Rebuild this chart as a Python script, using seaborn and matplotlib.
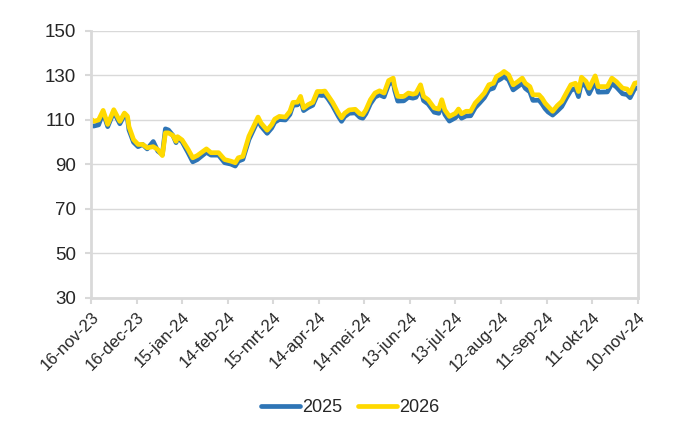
import pandas as pd
import matplotlib.pyplot as plt
import seaborn as sns

# dagen vanaf 16-nov-23
day = [0, 2, 5, 8, 11, 15, 19, 22, 24, 25, 28, 31, 34, 37, 41, 44, 47, 49, 51, 54,
       56, 57, 60, 64, 67, 70, 76, 79, 84, 88, 92, 95, 97, 100, 104, 107, 110, 112, 116, 119,
       121, 124, 128, 131, 133, 136, 138, 140, 143, 146, 149, 152, 154, 156, 159, 163, 165, 167, 170, 174,
       177, 179, 181, 184, 187, 190, 193, 196, 199, 200, 202, 206, 209, 212, 214, 217, 219, 222, 226, 229,
       231, 233, 236, 240, 242, 244, 247, 250, 253, 256, 259, 262, 265, 267, 270, 272, 275, 278, 281, 284,
       286, 289, 291, 295, 297, 299, 301, 304, 307, 310, 313, 316, 319, 321, 323, 326, 328, 332, 334, 340,
       343, 346, 350, 353, 355, 358, 360]

v2026 = [110.4, 109.4, 110.0, 114.3, 108.0, 114.6, 109.4, 113.1, 111.7, 107.0, 101.2, 99.0, 99.0, 97.5, 98.0, 96.7, 94.0, 104.2, 104.2, 103.0,
         100.4, 102.5, 101.0, 96.7, 93.0, 94.0, 97.0, 95.3, 95.3, 92.2, 91.5, 90.8, 93.0, 93.6, 102.7, 107.0, 111.3, 108.6, 105.4, 107.9,
         110.4, 111.6, 111.3, 113.9, 117.9, 118.0, 120.6, 115.4, 116.9, 117.9, 122.8, 122.8, 123.0, 121.0, 118.0, 113.1, 111.0, 113.0, 114.5, 114.8,
         112.8, 112.4, 114.5, 119.1, 122.1, 123.1, 122.1, 127.7, 128.8, 125.0, 120.6, 120.6, 122.1, 121.6, 122.0, 125.8, 120.6, 119.1, 115.4, 114.9,
         119.1, 114.5, 111.6, 113.0, 114.9, 112.8, 113.9, 113.9, 117.6, 119.8, 122.1, 125.8, 126.5, 129.5, 130.7, 131.8, 130.3, 125.8, 127.2, 128.8,
         126.5, 125.0, 121.3, 121.3, 119.8, 117.6, 116.1, 113.9, 116.4, 118.3, 122.1, 125.8, 126.5, 122.8, 129.2, 127.3, 124.3, 129.8, 125.0, 125.0,
         128.8, 127.2, 124.3, 123.9, 122.1, 126.5, 126.8]

v2025 = [107.3, 107.3, 107.8, 113.3, 107.0, 113.6, 108.3, 112.2, 110.6, 105.5, 100.0, 98.0, 99.0, 97.0, 100.3, 96.0, 94.5, 106.0, 105.5, 103.0,
         99.8, 102.0, 100.2, 95.2, 91.2, 92.2, 95.5, 94.2, 94.2, 90.8, 90.2, 89.3, 91.5, 92.3, 101.2, 105.6, 110.0, 107.2, 104.0, 106.4,
         109.0, 110.2, 110.0, 112.5, 116.6, 116.8, 119.3, 114.2, 115.6, 116.6, 121.3, 121.0, 121.2, 119.6, 116.5, 111.5, 109.4, 111.5, 113.0, 113.2,
         111.2, 110.8, 112.8, 117.3, 120.3, 121.3, 120.4, 126.0, 127.2, 123.3, 118.5, 118.6, 120.2, 119.8, 120.2, 124.0, 118.7, 117.2, 113.5, 113.0,
         117.0, 112.5, 109.5, 111.0, 112.9, 110.8, 111.8, 111.9, 115.5, 117.7, 120.0, 123.6, 124.3, 127.3, 128.5, 129.6, 128.0, 123.5, 125.0, 126.5,
         124.2, 122.6, 118.8, 118.9, 117.2, 115.1, 113.6, 112.2, 114.0, 116.0, 119.8, 123.3, 124.2, 120.5, 126.8, 125.0, 121.8, 127.3, 122.5, 122.6,
         126.4, 124.8, 121.8, 121.4, 120.0, 124.0, 124.5]

tick_days = [0, 30, 60, 90, 120, 150, 180, 210, 240, 270, 300, 330, 360]
tick_labels = ['16-nov-23', '16-dec-23', '15-jan-24', '14-feb-24', '15-mrt-24', '14-apr-24', '14-mei-24',
               '13-jun-24', '13-jul-24', '12-aug-24', '11-sep-24', '11-okt-24', '10-nov-24']

df = pd.DataFrame({'dag': day * 2,
                   'waarde': v2025 + v2026,
                   'jaar': ['2025'] * len(day) + ['2026'] * len(day)})

sns.set_theme(style='white')
plt.rcParams['font.family'] = ['Liberation Sans', 'DejaVu Sans']

grijs = '#d9d9d9'
blauw = '#2e75b6'
geel = '#ffd900'

fig = plt.figure(figsize=(7, 4.3), dpi=100)
ax = fig.add_axes([0.13, 0.307, 0.781, 0.621])

sns.lineplot(data=df, x='dag', y='waarde', hue='jaar',
             palette={'2025': blauw, '2026': geel},
             linewidth=3.4, ax=ax, legend=False)

ax.set_xlim(0, 360)
ax.set_ylim(30, 150)
ax.set_yticks(range(30, 151, 20))
ax.set_xticks(tick_days)
ax.set_xticklabels(tick_labels, rotation=45, ha='right', rotation_mode='anchor')
ax.set_xlabel('')
ax.set_ylabel('')

ax.grid(axis='y', color=grijs, linewidth=1)
ax.set_axisbelow(True)
for kant in ['left', 'bottom', 'right']:
    ax.spines[kant].set_color(grijs)
    ax.spines[kant].set_linewidth(2)
ax.spines['top'].set_visible(False)

ax.tick_params(axis='x', length=4, width=1.5, color=grijs, labelsize=12, pad=4, bottom=True)
ax.tick_params(axis='y', length=4, width=1.5, color=grijs, labelsize=13.5, pad=7, left=True)

lijnen = [plt.Line2D([], [], color=blauw, linewidth=3.4),
          plt.Line2D([], [], color=geel, linewidth=3.4)]
fig.legend(lijnen, ['2025', '2026'], loc='center', bbox_to_anchor=(0.5, 0.052), ncol=2,
           frameon=False, fontsize=13, handlelength=2.15, handletextpad=0.1, columnspacing=0.9)

plt.savefig('out.png', dpi=100)
